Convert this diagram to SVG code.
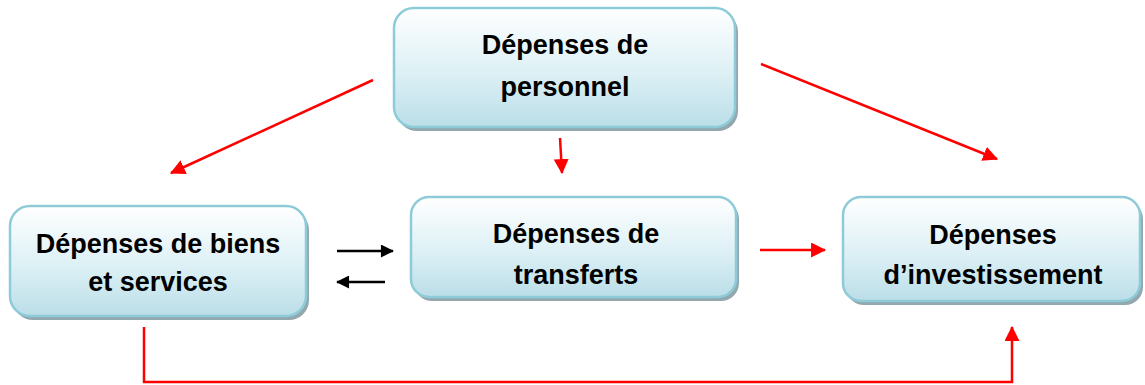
<svg xmlns="http://www.w3.org/2000/svg" width="1145" height="385" viewBox="0 0 1145 385">
<defs>
<linearGradient id="g" x1="0" y1="0" x2="0" y2="1">
<stop offset="0" stop-color="#ffffff"/>
<stop offset="0.55" stop-color="#dcf0f5"/>
<stop offset="1" stop-color="#bbdee8"/>
</linearGradient>
<marker id="ar" viewBox="0 0 14 14" refX="13" refY="7" markerWidth="15" markerHeight="15" markerUnits="userSpaceOnUse" orient="auto">
<path d="M0,0 L14,7 L0,14 Z" fill="#ff0000"/>
</marker>
<marker id="ab" viewBox="0 0 14 14" refX="13" refY="7" markerWidth="15" markerHeight="13" markerUnits="userSpaceOnUse" orient="auto">
<path d="M0,0 L14,7 L0,14 Z" fill="#000000"/>
</marker>
</defs>
<style>
.sh{fill:#93a7af}
.bx{fill:url(#g);stroke:#8ecbd8;stroke-width:2.5}
.t{font-family:"Liberation Sans",Arial,sans-serif;font-weight:bold;font-size:27px;fill:#000;text-anchor:middle}
.r{stroke:#ff0000;stroke-width:2.5;fill:none;marker-end:url(#ar)}
.k{stroke:#000;stroke-width:2.5;fill:none;marker-end:url(#ab)}
</style>
<rect width="1145" height="385" fill="#fff"/>
<g id="n-personnel">
<rect class="sh" x="397" y="12" width="341" height="119" rx="20"/>
<rect class="bx" x="394" y="8" width="341" height="119" rx="20"/>
<text class="t" x="565" y="54">Dépenses de</text>
<text class="t" x="565" y="96">personnel</text>
</g>
<g id="n-biens">
<rect class="sh" x="13" y="210" width="296" height="110" rx="20"/>
<rect class="bx" x="10" y="206" width="296" height="110" rx="20"/>
<text class="t" x="158" y="253">Dépenses de biens</text>
<text class="t" x="158" y="291">et services</text>
</g>
<g id="n-transferts">
<rect class="sh" x="414" y="201" width="325" height="100" rx="18"/>
<rect class="bx" x="411" y="197" width="325" height="100" rx="18"/>
<text class="t" x="576" y="243">Dépenses de</text>
<text class="t" x="576" y="284">transferts</text>
</g>
<g id="n-investissement">
<rect class="sh" x="846" y="201" width="297" height="104" rx="18"/>
<rect class="bx" x="843" y="197" width="297" height="104" rx="18"/>
<text class="t" x="993" y="244">Dépenses</text>
<text class="t" x="993" y="284">d’investissement</text>
</g>
<g id="connectors">
<line class="r" x1="373" y1="80" x2="171" y2="173"/>
<line class="r" x1="560" y1="138" x2="562" y2="173"/>
<line class="r" x1="761" y1="64" x2="997" y2="159"/>
<line class="k" x1="337" y1="251" x2="393" y2="251"/>
<line class="k" x1="385" y1="282" x2="337" y2="282"/>
<line class="r" x1="760" y1="250" x2="825" y2="250"/>
<polyline class="r" points="144,327 144,382 1012,382 1012,327"/>
</g>
</svg>
